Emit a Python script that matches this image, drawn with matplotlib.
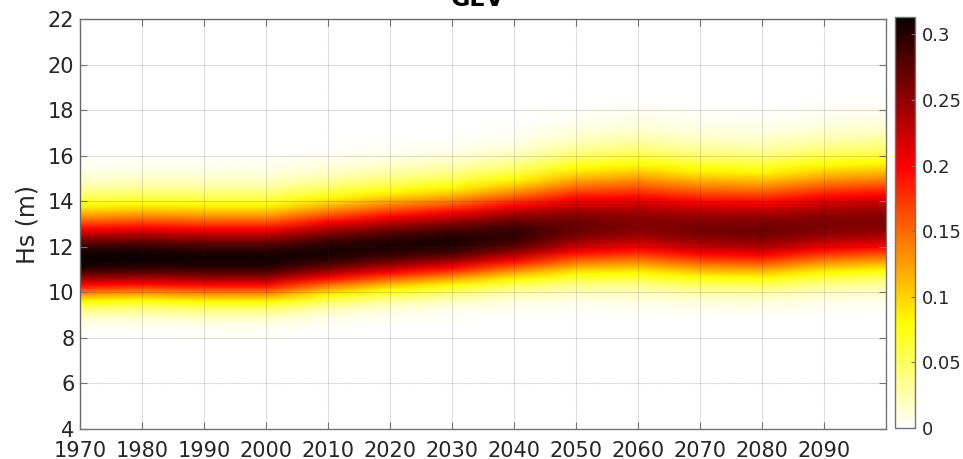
import numpy as np
import matplotlib
matplotlib.use('Agg')
import matplotlib.pyplot as plt
from matplotlib.image import NonUniformImage

# GEV parameters per decade
years = np.array([1970, 1980, 1990, 2000, 2010, 2020, 2030, 2040, 2050, 2060, 2070, 2080, 2090, 2099])
mode = np.array([11.45, 11.5, 11.45, 11.45, 11.75, 12.0, 12.2, 12.5, 12.85, 12.95, 12.75, 12.7, 12.95, 13.05])
scale = np.array([1.2, 1.21, 1.22, 1.22, 1.23, 1.24, 1.24, 1.28, 1.4, 1.47, 1.44, 1.42, 1.45, 1.46])
shape = -0.2

hs = np.linspace(4, 22, 361)
xticks = np.arange(1970, 2091, 10)
yticks = np.arange(4, 23, 2)
cticks = [0, 0.05, 0.1, 0.15, 0.2, 0.25, 0.3]


def gev_pdf(x, mu, sigma, xi):
    t = 1 + xi * (x - mu) / sigma
    out = np.zeros_like(x)
    ok = t > 0
    tt = t[ok] ** (-1.0 / xi)
    out[ok] = tt ** (xi + 1) * np.exp(-tt) / sigma
    return out


# location from the mode: mode = mu + sigma*((1+xi)**(-xi) - 1)/xi
loc = mode - scale * ((1 + shape) ** (-shape) - 1) / shape
pdf = np.column_stack([gev_pdf(hs, m, s, shape) for m, s in zip(loc, scale)])

fig = plt.figure(figsize=(9.63, 4.59), dpi=100)
ax = fig.add_axes([80/963, 30/459, 806/963, 410/459])
im = NonUniformImage(ax, interpolation='bilinear', cmap='hot_r',
                     extent=(years[0], years[-1], hs[0], hs[-1]))
im.set_data(years, hs, pdf)
im.set_clim(0, pdf.max())
ax.add_image(im)

ax.set_xlim(1970, 2100)
ax.set_ylim(4, 22)
ax.set_xticks(xticks)
ax.set_yticks(yticks)
ax.tick_params(direction='in', top=True, right=True, length=5, width=0.8,
               color='0.45', labelcolor='#262626', labelsize=15)
ax.tick_params(axis='x', pad=8.5)
ax.tick_params(axis='y', pad=4)
for sp in ax.spines.values():
    sp.set_color('0.45')
    sp.set_linewidth(1.0)
ax.set_axisbelow(False)
ax.grid(True, color='0.15', alpha=0.15, linewidth=0.8)
ax.set_ylabel('Hs (m)', fontsize=17, color='#262626', labelpad=6)

fig.text(478/963, 1 - 6/459, 'GEV', fontsize=17, fontweight='bold',
         ha='center', va='baseline', color='black')

cax = fig.add_axes([895/963, 31/459, 20/963, 411/459])
cb = fig.colorbar(im, cax=cax, ticks=cticks)
cb.ax.set_yticklabels(['0', '0.05', '0.1', '0.15', '0.2', '0.25', '0.3'])
cb.ax.tick_params(direction='in', length=3, width=0.8, color='0.45',
                  labelcolor='#262626', labelsize=13, pad=5)
cb.outline.set_edgecolor('0.45')
cb.outline.set_linewidth(1.0)

fig.savefig('out.png', dpi=100)
plt.close('all')
